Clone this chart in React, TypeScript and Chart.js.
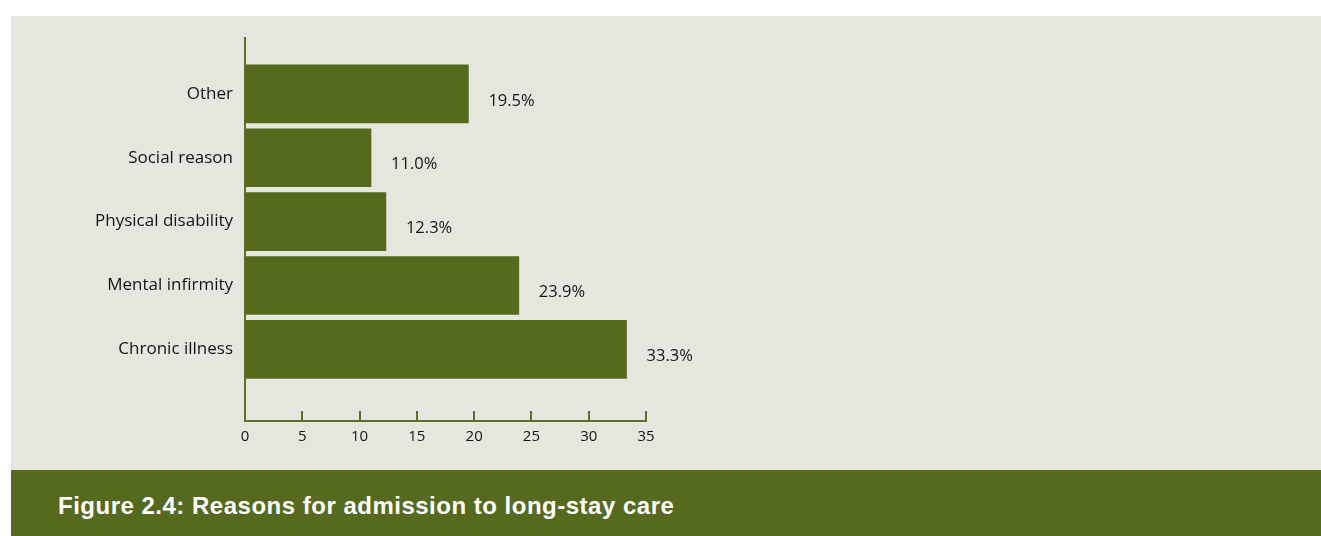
import React, { useEffect, useRef } from "react";
import { Chart, registerables } from "chart.js";

Chart.register(...registerables);

const categories = ["Chronic illness", "Mental infirmity", "Physical disability", "Social reason", "Other"];
const values = [33.3, 23.9, 12.3, 11.0, 19.5];
const xTicks = [0, 5, 10, 15, 20, 25, 30, 35];
const title = "Figure 2.4: Reasons for admission to long-stay care";

const GREEN = "#566a1f";
const AXIS = "#5b7029";
const BG = "#e5e7de";
const TEXT = "#141414";

export default function App() {
  const ref = useRef<HTMLCanvasElement | null>(null);

  useEffect(() => {
    document.body.style.margin = "0";
    const canvas = ref.current!;
    const tickPlugin = {
      id: "upTicks",
      afterDatasetsDraw(chart: any) {
        const { ctx, chartArea } = chart;
        const xs = chart.scales.x;
        ctx.save();
        ctx.strokeStyle = AXIS;
        ctx.lineWidth = 2;
        xTicks.forEach((v) => {
          const px = Math.round(xs.getPixelForValue(v));
          ctx.beginPath();
          ctx.moveTo(px, chartArea.bottom);
          ctx.lineTo(px, chartArea.bottom - 10);
          ctx.stroke();
        });
        const meta = chart.getDatasetMeta(0);
        ctx.fillStyle = TEXT;
        ctx.font = '16.5px "Open Sans"';
        ctx.textBaseline = "middle";
        ctx.textAlign = "left";
        meta.data.forEach((bar: any, i: number) => {
          ctx.fillText(values[i].toFixed(1) + "%", bar.x + 20, bar.y + 7);
        });
        ctx.restore();
      },
    };
    const chart = new Chart(canvas, {
      type: "bar",
      data: {
        datasets: [
          {
            data: values.map((v, i) => ({ x: v, y: i + 1 })),
            backgroundColor: GREEN,
            borderWidth: 0,
            barThickness: 58,
          },
        ],
      },
      options: {
        indexAxis: "y",
        animation: false,
        responsive: false,
        maintainAspectRatio: false,
        layout: { padding: { left: 0, top: 20, right: 675, bottom: 0 } },
        plugins: { legend: { display: false }, tooltip: { enabled: false } },
        scales: {
          y: {
            type: "linear",
            offset: false,
            min: -0.12,
            max: 5.87,
            grid: { display: false, drawTicks: false },
            border: { display: true, color: AXIS, width: 2 },
            ticks: {
              stepSize: 1,
              autoSkip: false,
              padding: 12,
              color: TEXT,
              font: { family: "Open Sans", size: 17 },
              callback: (v: any) =>
                Number.isInteger(v) && v >= 1 && v <= categories.length ? categories[v - 1] : "",
            },
            afterFit: (s: any) => {
              s.width = 234;
            },
          },
          x: {
            type: "linear",
            min: 0,
            max: 35,
            grid: { display: true, drawOnChartArea: false, drawTicks: false },
            border: { display: true, color: AXIS, width: 2 },
            ticks: {
              stepSize: 5,
              padding: 7,
              color: TEXT,
              font: { family: "Open Sans", size: 15 },
            },
            afterFit: (s: any) => {
              s.height = 49;
            },
          },
        },
      },
      plugins: [tickPlugin],
    });
    return () => chart.destroy();
  }, []);

  return (
    <div style={{ position: "relative", width: 1321, height: 536, background: "#ffffff" }}>
      <div style={{ position: "absolute", left: 11, top: 16, width: 1310, height: 454, background: BG }}>
        <canvas ref={ref} width={1310} height={454} style={{ width: 1310, height: 454, display: "block" }} />
      </div>
      <div
        style={{
          position: "absolute",
          left: 11,
          top: 470,
          width: 1310,
          height: 66,
          background: GREEN,
          color: "#ffffff",
          fontFamily: '"Liberation Sans", Arial, sans-serif',
          fontWeight: "bold",
          fontSize: 24,
          letterSpacing: "0.5px",
          lineHeight: "60px",
          paddingTop: 6,
          paddingLeft: 47,
          boxSizing: "border-box",
          whiteSpace: "nowrap",
        }}
      >
        {title}
      </div>
    </div>
  );
}
